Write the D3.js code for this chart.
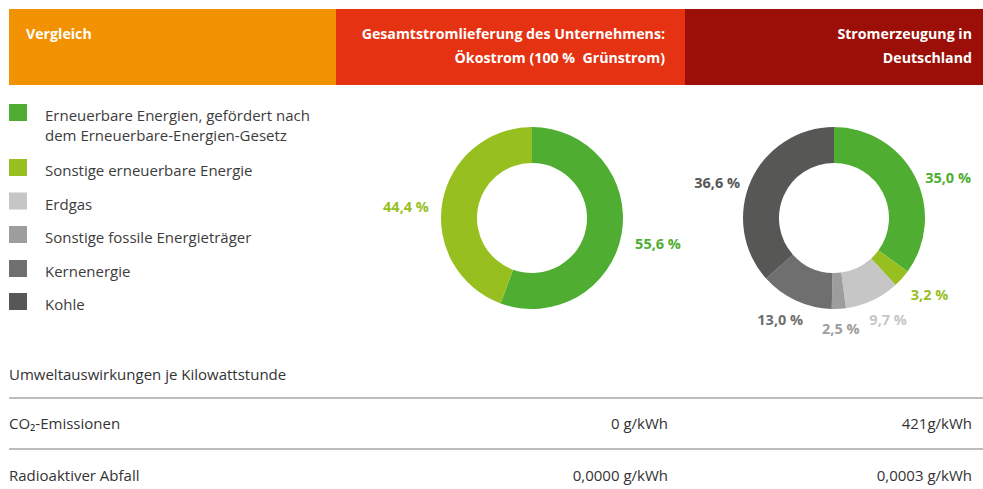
<!DOCTYPE html>
<html><head><meta charset="utf-8">
<script src="https://cdn.jsdelivr.net/npm/d3@7/dist/d3.min.js"></script>
<style>
body{margin:0;background:#fff;}
svg{display:block;font-family:"Open Sans","Noto Sans",sans-serif;}
text{white-space:pre;}
</style></head>
<body><svg id="chart" width="983" height="489"></svg>
<script>
// ---- data ----
const categories = [
  "Erneuerbare Energien, gefördert nach dem Erneuerbare-Energien-Gesetz",
  "Sonstige erneuerbare Energie",
  "Erdgas",
  "Sonstige fossile Energieträger",
  "Kernenergie",
  "Kohle"
];
const legendLines = [
  ["Erneuerbare Energien, gefördert nach","dem Erneuerbare-Energien-Gesetz"],
  ["Sonstige erneuerbare Energie"],
  ["Erdgas"],
  ["Sonstige fossile Energieträger"],
  ["Kernenergie"],
  ["Kohle"]
];
const colors = ["#4FAE32","#97BF1F","#C6C6C6","#9D9D9D","#6F6F6F","#575756"];
const oekostromValues = [55.6, 44.4, 0, 0, 0, 0];
const deutschlandValues = [35.0, 3.2, 9.7, 2.5, 13.0, 36.6];
const headers = [
  ["Vergleich"],
  ["Gesamtstromlieferung des Unternehmens:","Ökostrom (100 %  Grünstrom)"],
  ["Stromerzeugung in","Deutschland"]
];
const headerColors = ["#F39200","#E53212","#9B0F08"];
const tableTitle = "Umweltauswirkungen je Kilowattstunde";
const tableRows = ["CO₂-Emissionen","Radioaktiver Abfall"];
const oekostromImpact = ["0 g/kWh","0,0000 g/kWh"];
const deutschlandImpact = ["421g/kWh","0,0003 g/kWh"];

// ---- layout ----
const svg = d3.select("#chart");
const fmt = v => d3.format(".1f")(v).replace(".", ",") + " %";

// header
const colX = [9,336,685];
const colEnd = [336,685,983];
const textRight = [0,665,972];
const hg = svg.append("g");
headers.forEach((lines,i)=>{
  hg.append("rect").attr("x",colX[i]).attr("y",9).attr("width",colEnd[i]-colX[i]).attr("height",76).attr("fill",headerColors[i]);
  lines.forEach((t,j)=>{
    hg.append("text")
      .attr("x", i===0 ? 26 : textRight[i])
      .attr("y", 39 + j*24)
      .attr("text-anchor", i===0 ? "start" : "end")
      .attr("fill","#fff").attr("font-weight","bold").attr("font-size",14.2)
      .text(t);
  });
});

// legend
const legY = [112.5,167.5,201,234.5,268.5,301.5];
const lg = svg.append("g");
categories.forEach((c,i)=>{
  lg.append("rect").attr("x",9).attr("y",legY[i]-8.5).attr("width",18).attr("height",17).attr("fill",colors[i]);
  legendLines[i].forEach((t,j)=>{
    lg.append("text").attr("x",45).attr("y",legY[i]+8.5+j*20)
      .attr("font-size",15).attr("fill","#3c3c3c").text(t);
  });
});

// donuts
const pie = d3.pie().sort(null).value(d=>d.v);
const arc = d3.arc().innerRadius(55).outerRadius(91);
function donut(values, cx, cy){
  const data = values.map((v,i)=>({v, i})).filter(d=>d.v>0);
  const g = svg.append("g").attr("transform",`translate(${cx},${cy})`);
  const arcs = pie(data);
  g.selectAll("path").data(arcs).join("path")
    .attr("d",arc).attr("fill",d=>colors[d.data.i]);
  g.selectAll("text").data(arcs).join("text")
    .attr("x",d=>{const a=(d.startAngle+d.endAngle)/2; return 128*Math.sin(a);})
    .attr("y",d=>{const a=(d.startAngle+d.endAngle)/2; return -104*Math.cos(a)+7;})
    .attr("text-anchor","middle").attr("dominant-baseline","central")
    .attr("font-weight","bold").attr("font-size",14.5)
    .attr("fill",d=>colors[d.data.i])
    .text(d=>fmt(d.data.v));
}
donut(oekostromValues, 532, 218);
donut(deutschlandValues, 834, 218);

// table
const tg = svg.append("g").attr("font-size",15).attr("fill","#333");
tg.append("text").attr("x",9).attr("y",380).text(tableTitle);
const rowY = [429,481];
[398,449].forEach(y=>tg.append("line").attr("x1",9).attr("x2",983).attr("y1",y).attr("y2",y).attr("stroke","#7a7a7a").attr("stroke-width",1.2));
tableRows.forEach((r,i)=>{
  tg.append("text").attr("x",9).attr("y",rowY[i]).text(r);
  tg.append("text").attr("x",668).attr("y",rowY[i]).attr("text-anchor","end").text(oekostromImpact[i]);
  tg.append("text").attr("x",972).attr("y",rowY[i]).attr("text-anchor","end").text(deutschlandImpact[i]);
});
</script>
</body></html>
